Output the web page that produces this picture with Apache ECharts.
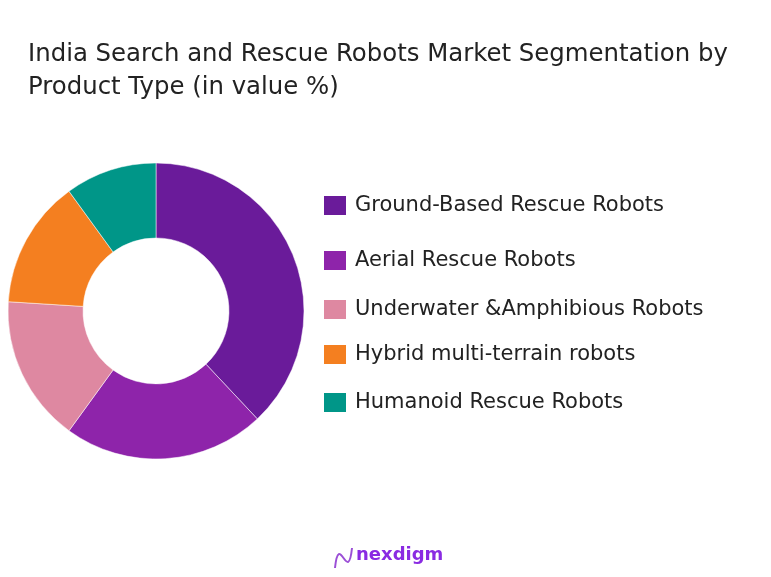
<!DOCTYPE html>
<html>
<head>
<meta charset="utf-8">
<script src="https://cdn.jsdelivr.net/npm/echarts@6/dist/echarts.min.js"></script>
<style>html,body{margin:0;padding:0;background:#fff}#c{width:771px;height:577px}</style>
</head>
<body>
<div id="c"></div>
<script>
const categories = ['Ground-Based Rescue Robots','Aerial Rescue Robots','Underwater &Amphibious Robots','Hybrid multi-terrain robots','Humanoid Rescue Robots'];
const values = [38, 22, 16, 14, 10];
const colors = ['#6A1B9A','#8E24AA','#DE88A1','#F47F20','#009688'];
const legendTops = [194, 249, 298, 343, 391];

const chart = echarts.init(document.getElementById('c'));
const legends = categories.map((name, i) => ({
  data: [name],
  left: 322,
  top: legendTops[i],
  orient: 'vertical',
  icon: 'rect',
  itemWidth: 24,
  itemHeight: 21,
  itemGap: 0,
  padding: 0,
  textStyle: { fontFamily: 'DejaVu Sans', fontSize: 21, color: '#222', padding: [0,0,0,3] },
  selectedMode: false
}));
chart.setOption({
  animation: false,
  color: colors,
  title: {
    text: 'India Search and Rescue Robots Market Segmentation by\nProduct Type (in value %)',
    left: 28, top: 38, padding: 0,
    textStyle: { fontFamily: 'DejaVu Sans', fontSize: 24.4, fontWeight: 'normal', color: '#222', lineHeight: 33 }
  },
  legend: legends,
  series: [{
    type: 'pie',
    center: [156, 311],
    radius: [73, 148],
    startAngle: 90,
    clockwise: true,
    label: { show: false },
    labelLine: { show: false },
    itemStyle: { borderColor: '#fff', borderWidth: 0.5 },
    data: categories.map((n, i) => ({ name: n, value: values[i] }))
  }],
  graphic: [
    {
      type: 'bezierCurve',
      shape: { x1: 335, y1: 568, x2: 352, y2: 548, cpx1: 339, cpy1: 530, cpx2: 348, cpy2: 586 },
      style: { fill: null, stroke: '#9b4fd6', lineWidth: 2 }
    },
    {
      type: 'text', left: 356, top: 546,
      style: { text: 'nexdigm', fontFamily: 'DejaVu Sans', fontSize: 18, fontWeight: 'bold', fill: '#8a2be2' }
    }
  ]
});
</script>
</body>
</html>
